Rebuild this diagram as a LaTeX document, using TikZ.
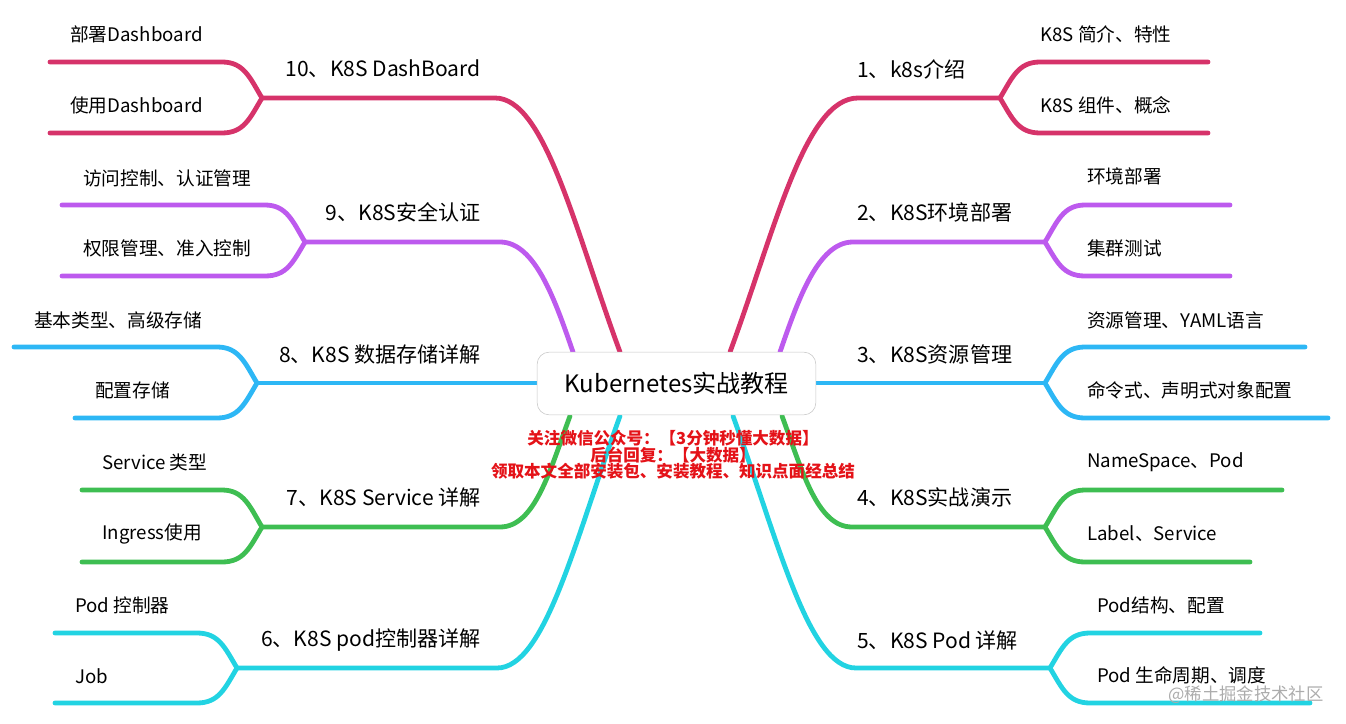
\documentclass[tikz,border=0pt]{standalone}
\usepackage{fontspec}
\setmainfont{Noto Sans CJK SC}
\usetikzlibrary{positioning, backgrounds}
\definecolor{kred}{RGB}{214, 51, 106}
\definecolor{kpurple}{RGB}{189, 90, 238}
\definecolor{kblue}{RGB}{45, 183, 245}
\definecolor{kgreen}{RGB}{62, 190, 82}
\definecolor{kcyan}{RGB}{34, 211, 226}
\definecolor{wmred}{RGB}{228, 18, 24}
\tikzset{
  branch/.style={line width=3.6pt, line cap=round},
  toplbl/.style={inner sep=0pt, font=\fontsize{15.8pt}{18pt}\selectfont},
  sublbl/.style={inner sep=0pt, anchor=west, font=\fontsize{14pt}{16pt}\selectfont},
}
\begin{document}
\begin{tikzpicture}[x=0.75pt, y=-0.75pt]
  \useasboundingbox (0,0) rectangle (1346,724);

  % centre
  \node[draw=gray!45, fill=white, rounded corners=9pt, minimum width=209pt, minimum height=47pt,
        inner sep=0pt, font=\fontsize{18pt}{22pt}\selectfont] (root) at (676.5,383.5) {Kubernetes实战教程};

  \begin{scope}[on background layer]
  % 1 k8s介绍
  \coordinate (s1) at (730,352);  \coordinate (j1) at (1000,98);
  \coordinate (e1a) at (1208,62); \coordinate (e1b) at (1208,133);
  \draw[branch, kred] (s1) .. controls (775,230) and (805,98) .. (858,98) -- (j1);
  \draw[branch, kred] (j1) .. controls (1012,78) and (1018,62) .. (1040,62) -- (e1a);
  \draw[branch, kred] (j1) .. controls (1012,118) and (1018,133) .. (1040,133) -- (e1b);

  % 2 环境部署
  \coordinate (s2) at (780,352);  \coordinate (j2) at (1045,242);
  \coordinate (e2a) at (1230,205); \coordinate (e2b) at (1230,276);
  \draw[branch, kpurple] (s2) .. controls (798,300) and (818,242) .. (853,242) -- (j2);
  \draw[branch, kpurple] (j2) .. controls (1057,222) and (1063,205) .. (1085,205) -- (e2a);
  \draw[branch, kpurple] (j2) .. controls (1057,262) and (1063,276) .. (1085,276) -- (e2b);

  % 3 资源管理
  \coordinate (s3) at (816,383);  \coordinate (j3) at (1045,383);
  \coordinate (e3a) at (1305,347); \coordinate (e3b) at (1328,418);
  \draw[branch, kblue] (s3) -- (j3);
  \draw[branch, kblue] (j3) .. controls (1057,363) and (1063,347) .. (1085,347) -- (e3a);
  \draw[branch, kblue] (j3) .. controls (1057,403) and (1063,418) .. (1085,418) -- (e3b);

  % 4 实战演示
  \coordinate (s4) at (782,416);  \coordinate (j4) at (1045,527);
  \coordinate (e4a) at (1282,490); \coordinate (e4b) at (1250,562);
  \draw[branch, kgreen] (s4) .. controls (802,470) and (817,527) .. (852,527) -- (j4);
  \draw[branch, kgreen] (j4) .. controls (1057,507) and (1063,490) .. (1085,490) -- (e4a);
  \draw[branch, kgreen] (j4) .. controls (1057,547) and (1063,562) .. (1085,562) -- (e4b);

  % 5 Pod 详解
  \coordinate (s5) at (733,416);  \coordinate (j5) at (1050,668);
  \coordinate (e5a) at (1260,633); \coordinate (e5b) at (1310,703);
  \draw[branch, kcyan] (s5) .. controls (778,540) and (808,668) .. (856,668) -- (j5);
  \draw[branch, kcyan] (j5) .. controls (1062,648) and (1068,633) .. (1090,633) -- (e5a);
  \draw[branch, kcyan] (j5) .. controls (1062,688) and (1068,703) .. (1090,703) -- (e5b);

  % 6 pod控制器
  \coordinate (s6) at (620,416);  \coordinate (j6) at (237,668);
  \coordinate (e6a) at (55,633); \coordinate (e6b) at (55,703);
  \draw[branch, kcyan] (s6) .. controls (575,540) and (545,668) .. (497,668) -- (j6);
  \draw[branch, kcyan] (j6) .. controls (225,648) and (219,633) .. (197,633) -- (e6a);
  \draw[branch, kcyan] (j6) .. controls (225,688) and (219,703) .. (197,703) -- (e6b);

  % 7 Service
  \coordinate (s7) at (570,416);  \coordinate (j7) at (262,527);
  \coordinate (e7a) at (82,490); \coordinate (e7b) at (82,562);
  \draw[branch, kgreen] (s7) .. controls (550,470) and (535,527) .. (500,527) -- (j7);
  \draw[branch, kgreen] (j7) .. controls (250,507) and (244,490) .. (222,490) -- (e7a);
  \draw[branch, kgreen] (j7) .. controls (250,547) and (244,562) .. (222,562) -- (e7b);

  % 8 数据存储
  \coordinate (s8) at (537,383);  \coordinate (j8) at (257,383);
  \coordinate (e8a) at (14,347); \coordinate (e8b) at (75,418);
  \draw[branch, kblue] (s8) -- (j8);
  \draw[branch, kblue] (j8) .. controls (245,363) and (239,347) .. (217,347) -- (e8a);
  \draw[branch, kblue] (j8) .. controls (245,403) and (239,418) .. (217,418) -- (e8b);

  % 9 安全认证
  \coordinate (s9) at (573,352);  \coordinate (j9) at (305,242);
  \coordinate (e9a) at (62,205); \coordinate (e9b) at (62,276);
  \draw[branch, kpurple] (s9) .. controls (555,300) and (535,242) .. (500,242) -- (j9);
  \draw[branch, kpurple] (j9) .. controls (293,222) and (287,205) .. (265,205) -- (e9a);
  \draw[branch, kpurple] (j9) .. controls (293,262) and (287,276) .. (265,276) -- (e9b);

  % 10 DashBoard
  \coordinate (s10) at (620,352);  \coordinate (j10) at (262,98);
  \coordinate (e10a) at (50,62); \coordinate (e10b) at (50,133);
  \draw[branch, kred] (s10) .. controls (575,230) and (545,98) .. (495,98) -- (j10);
  \draw[branch, kred] (j10) .. controls (250,78) and (244,62) .. (222,62) -- (e10a);
  \draw[branch, kred] (j10) .. controls (250,118) and (244,133) .. (222,133) -- (e10b);
  \end{scope}

  % labels, right
  \node[toplbl, anchor=west] (t1) at (857,69) {1、k8s介绍};
  \node[sublbl] (t1a) at (1040,34) {K8S 简介、特性};
  \node[sublbl] (t1b) at (1040,105) {K8S 组件、概念};
  \node[toplbl, anchor=west] (t2) at (857,212) {2、K8S环境部署};
  \node[sublbl] (t2a) at (1087,176) {环境部署};
  \node[sublbl] (t2b) at (1087,248) {集群测试};
  \node[toplbl, anchor=west] (t3) at (857,354) {3、K8S资源管理};
  \node[sublbl] (t3a) at (1087,320) {资源管理、YAML语言};
  \node[sublbl] (t3b) at (1087,390) {命令式、声明式对象配置};
  \node[toplbl, anchor=west] (t4) at (857,497) {4、K8S实战演示};
  \node[sublbl] (t4a) at (1087,462) {NameSpace、Pod};
  \node[sublbl] (t4b) at (1087,534) {Label、Service};
  \node[toplbl, anchor=west] (t5) at (857,640) {5、K8S Pod 详解};
  \node[sublbl] (t5a) at (1097,605) {Pod结构、配置};
  \node[sublbl] (t5b) at (1097,675) {Pod 生命周期、调度};

  % labels, left
  \node[toplbl, anchor=east] (t6) at (481,640) {6、K8S pod控制器详解};
  \node[sublbl] (t6a) at (75,605) {Pod 控制器};
  \node[sublbl] (t6b) at (75,676) {Job};
  \node[toplbl, anchor=east] (t7) at (481,497) {7、K8S Service 详解};
  \node[sublbl] (t7a) at (102,462) {Service 类型};
  \node[sublbl] (t7b) at (102,534) {Ingress使用};
  \node[toplbl, anchor=east] (t8) at (481,354) {8、K8S 数据存储详解};
  \node[sublbl] (t8a) at (34,320) {基本类型、高级存储};
  \node[sublbl] (t8b) at (95,390) {配置存储};
  \node[toplbl, anchor=east] (t9) at (481,212) {9、K8S安全认证};
  \node[sublbl] (t9a) at (83,178) {访问控制、认证管理};
  \node[sublbl] (t9b) at (83,248) {权限管理、准入控制};
  \node[toplbl, anchor=east] (t10) at (481,69) {10、K8S DashBoard};
  \node[sublbl] (t10a) at (70,34) {部署Dashboard};
  \node[sublbl] (t10b) at (70,105) {使用Dashboard};

  % notes
  \node[align=center, inner sep=0pt, text=wmred, font=\bfseries\fontsize{12.4pt}{12.4pt}\selectfont] (promo) at (673,455)
    {关注微信公众号：【3分钟秒懂大数据】\\后台回复：【大数据】\\领取本文全部安装包、安装教程、知识点面经总结};
  \node[inner sep=0pt, text=gray!65, font=\fontsize{13pt}{16pt}\selectfont] (mark) at (1246,695) {@稀土掘金技术社区};
\end{tikzpicture}
\end{document}
